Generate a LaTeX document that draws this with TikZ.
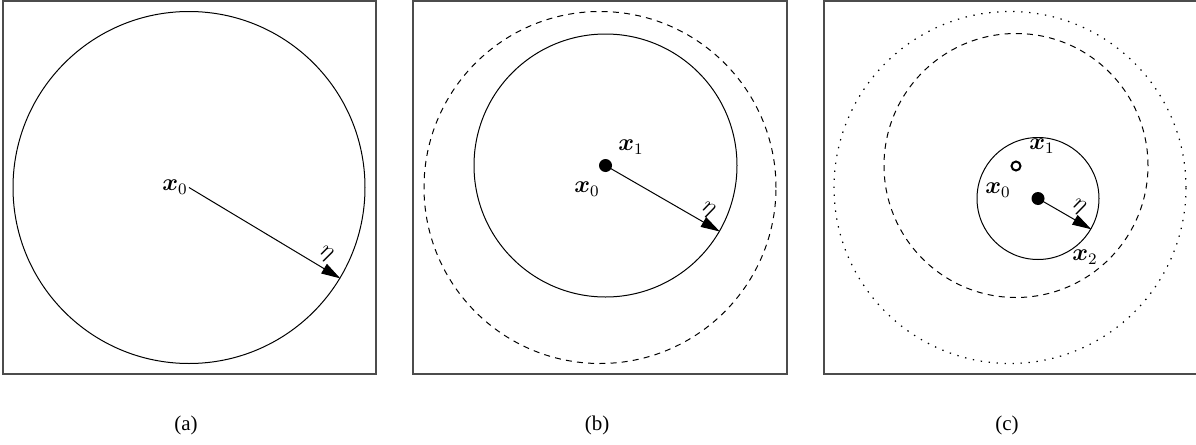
\documentclass[tikz,border=0pt]{standalone}
\usepackage{fontspec}
\setmainfont{Liberation Serif}
\usepackage{amsmath,bm}
\usetikzlibrary{arrows.meta}
\begin{document}
\begin{tikzpicture}[x=0.5pt,y=-0.5pt,
  frame/.style={draw=black!70, line width=0.7pt},
  ring/.style={circle, draw, line width=0.5pt, inner sep=0pt, minimum size=#1},
  dashring/.style={ring=#1, dash pattern=on 3pt off 2.6pt},
  dotring/.style={ring=#1, line width=0.6pt, dash pattern=on 0.7pt off 3.3pt},
  lbl/.style={font=\fontsize{11.5}{13}\selectfont, inner sep=0pt},
  arr/.style={line width=0.5pt, -{Triangle[length=9.5pt,width=5.5pt]}},
  dot/.style={circle, fill=black, inner sep=0pt, minimum size=6.5pt},
  odot/.style={circle, draw, line width=1pt, inner sep=0pt, minimum size=4.5pt},
  captxt/.style={font=\fontsize{10.5}{12}\selectfont, inner sep=0pt}
]
\useasboundingbox (0,0) rectangle (1196,445);

% ---------- (a)
\draw[frame] (3,1) rectangle (376,374);
\node[ring=176pt] (ca) at (189,187.5) {};
\node[lbl] (xa0) at (175,187) {$\bm{x}_0$};
\draw[arr] (ca.center) -- (ca.-31) node[lbl, sloped, above=2.5pt, pos=0.86] (ea) {$\eta$};
\node[captxt] (capa) at (186,425) {(a)};

% ---------- (b)
\draw[frame] (413,1) rectangle (787,374);
\node[dashring=176pt] (cb0) at (600,187.5) {};
\node[ring=131.5pt] (cb1) at (605.5,165.5) {};
\node[dot] (db1) at (605.5,165.5) {};
\node[lbl] (xb1) at (631,147) {$\bm{x}_1$};
\node[lbl] (xb0) at (587,189) {$\bm{x}_0$};
\draw[arr] (db1.center) -- (cb1.-30) node[lbl, sloped, above=2.5pt, pos=0.84] (eb) {$\eta$};
\node[captxt] (capb) at (597,425) {(b)};

% ---------- (c)
\draw[frame] (824,1) rectangle (1197,374);
\node[dotring=176pt] (cc0) at (1010,187.5) {};
\node[dashring=132pt] (cc1) at (1016,165.5) {};
\node[ring=61pt] (cc2) at (1038,198.5) {};
\node[odot] (oc1) at (1016,166) {};
\node[dot] (dc2) at (1038,198.5) {};
\node[lbl] (xc1) at (1042,146) {$\bm{x}_1$};
\node[lbl] (xc0) at (998,190) {$\bm{x}_0$};
\node[lbl] (xc2) at (1085,257) {$\bm{x}_2$};
\draw[arr] (dc2.center) -- (cc2.-30) node[lbl, sloped, above=2.5pt, pos=0.64] (ec) {$\eta$};
\node[captxt] (capc) at (1007,425) {(c)};
\end{tikzpicture}
\end{document}
